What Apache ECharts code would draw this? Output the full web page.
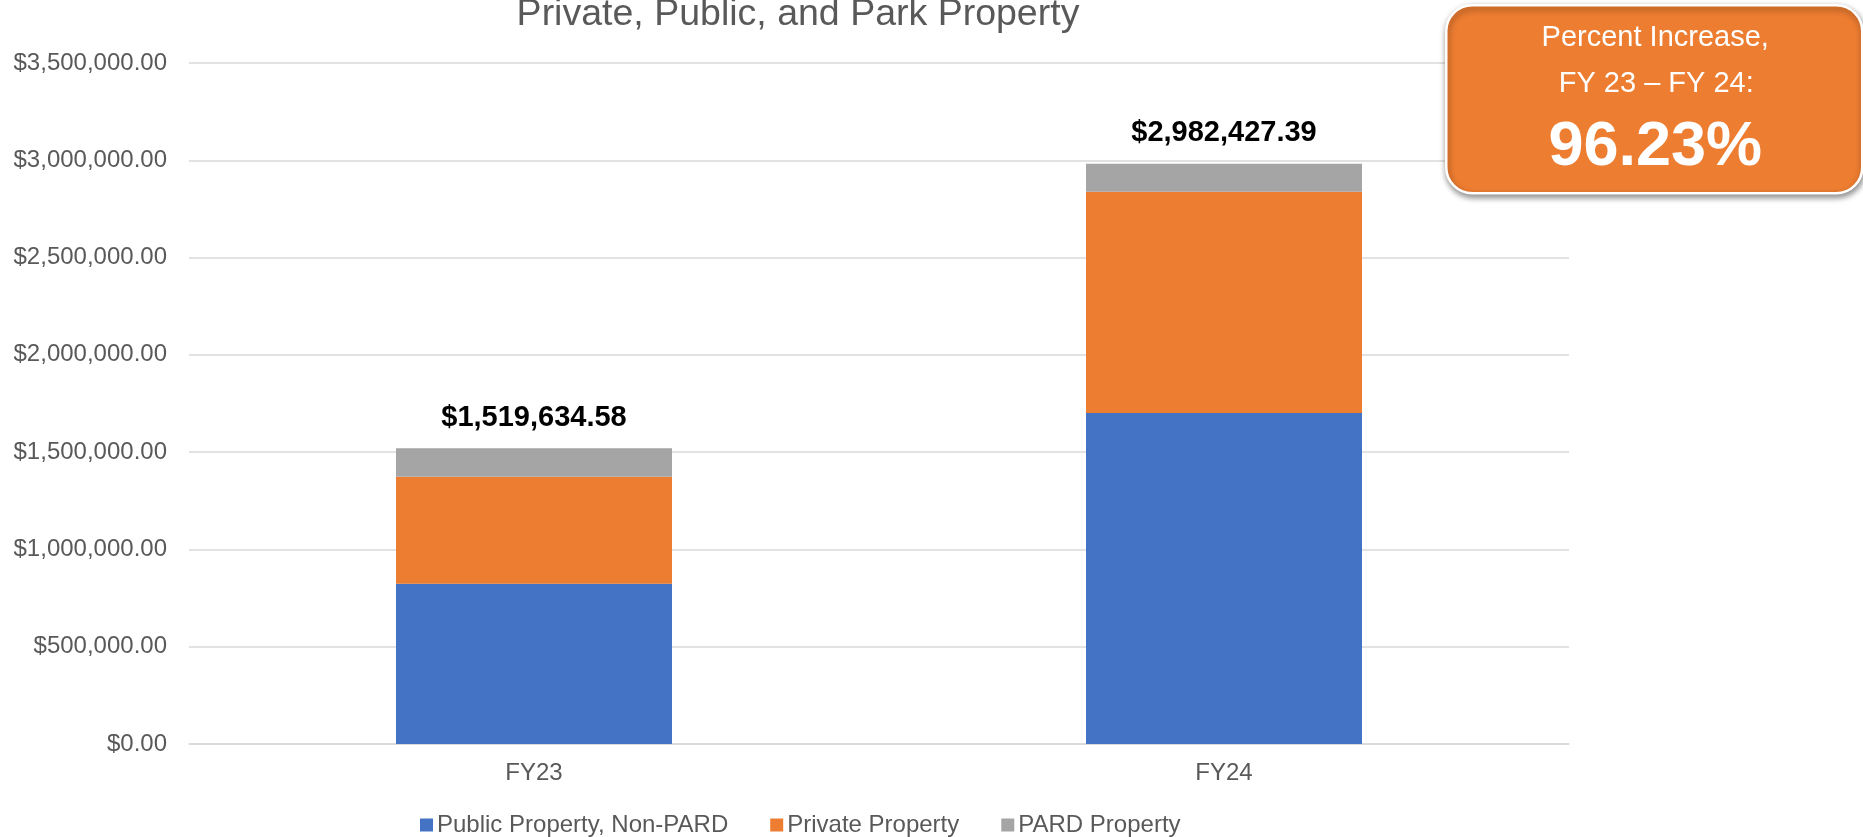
<!DOCTYPE html>
<html>
<head>
<meta charset="utf-8">
<script src="https://cdn.jsdelivr.net/npm/echarts@6/dist/echarts.min.js"></script>
<style>
  html, body { margin: 0; padding: 0; background: #fff; }
  #chart { width: 1863px; height: 837px; }
</style>
</head>
<body>
<div id="chart"></div>
<script>
const categories = ['FY23', 'FY24'];
const publicNonPard = [823700, 1701000];
const privateProp = [549900, 1137000];
const pardProp = [146000, 144400];
const totals = [1519634.58, 2982427.39];
const seriesNames = ['Public Property, Non-PARD', 'Private Property', 'PARD Property'];
const titleText = 'Private, Public, and Park Property';
const boxLines = ['Percent Increase,', 'FY 23 \u2013 FY 24:', '96.23%'];

function money(v) {
  const neg = v < 0;
  v = Math.abs(v);
  const fixed = v.toFixed(2);
  const parts = fixed.split('.');
  const intPart = parts[0].replace(/\B(?=(\d{3})+(?!\d))/g, ',');
  return (neg ? '-' : '') + '$' + intPart + '.' + parts[1];
}

const FONT = "'Liberation Sans', Arial, sans-serif";
const chart = echarts.init(document.getElementById('chart'));

chart.setOption({
  animation: false,
  textStyle: { fontFamily: FONT },
  title: {
    text: titleText,
    left: 798,
    textAlign: 'center',
    top: -4,
    padding: 0,
    textStyle: { fontFamily: FONT, fontSize: 37.5, fontWeight: 'normal', color: '#595959' }
  },
  grid: { left: 189, right: 294, top: 63, bottom: 93, containLabel: false },
  legend: {
    left: 415,
    top: 808,
    itemWidth: 13,
    itemHeight: 13,
    itemGap: 42,
    icon: 'rect',
    textStyle: { fontFamily: FONT, fontSize: 24, color: '#595959', padding: [0, 0, 0, -1] },
    data: seriesNames
  },
  xAxis: {
    type: 'category',
    data: categories,
    axisLine: { show: true, lineStyle: { color: '#d9d9d9', width: 1.5 } },
    axisTick: { show: false },
    axisLabel: { fontFamily: FONT, fontSize: 24, color: '#595959', margin: 17 }
  },
  yAxis: {
    type: 'value',
    min: 0,
    max: 3500000,
    interval: 500000,
    axisLine: { show: false },
    axisTick: { show: false },
    splitLine: { lineStyle: { color: '#d9d9d9', width: 1.5 } },
    axisLabel: { fontFamily: FONT, fontSize: 24, color: '#595959', margin: 22, formatter: money }
  },
  series: [
    {
      name: seriesNames[0], type: 'bar', stack: 'total', barWidth: 276,
      itemStyle: { color: '#4472C4' }, data: publicNonPard
    },
    {
      name: seriesNames[1], type: 'bar', stack: 'total', barWidth: 276,
      itemStyle: { color: '#ED7D31' }, data: privateProp
    },
    {
      name: seriesNames[2], type: 'bar', stack: 'total', barWidth: 276,
      itemStyle: { color: '#A5A5A5' }, data: pardProp,
      label: {
        show: true, position: 'top', distance: 16,
        fontFamily: FONT, fontSize: 29, fontWeight: 'bold', color: '#000',
        formatter: p => money(totals[p.dataIndex])
      }
    }
  ],
  graphic: [
    {
      type: 'group',
      left: 1445,
      top: 4,
      z: 100,
      zlevel: 1,
      children: [
        {
          type: 'rect',
          z: 100,
          shape: { x: 0, y: 0, width: 416, height: 188, r: 26 },
          style: {
            fill: '#ED7D31', stroke: '#ffffff', lineWidth: 2.5,
            shadowBlur: 6, shadowOffsetX: 1, shadowOffsetY: 3, shadowColor: 'rgba(0,0,0,0.45)'
          }
        },
        {
          type: 'text', x: 209, y: 33, z: 101,
          style: { text: boxLines[0], fill: '#fff', font: "29px 'Liberation Sans', Arial, sans-serif", align: 'center', verticalAlign: 'middle' }
        },
        {
          type: 'text', x: 210, y: 79, z: 101,
          style: { text: boxLines[1], fill: '#fff', font: "29px 'Liberation Sans', Arial, sans-serif", align: 'center', verticalAlign: 'middle' }
        },
        {
          type: 'text', x: 209, y: 142, z: 101,
          style: { text: boxLines[2], fill: '#fff', font: "bold 63px 'Liberation Sans', Arial, sans-serif", align: 'center', verticalAlign: 'middle' }
        }
      ]
    }
  ]
});
</script>
</body>
</html>
